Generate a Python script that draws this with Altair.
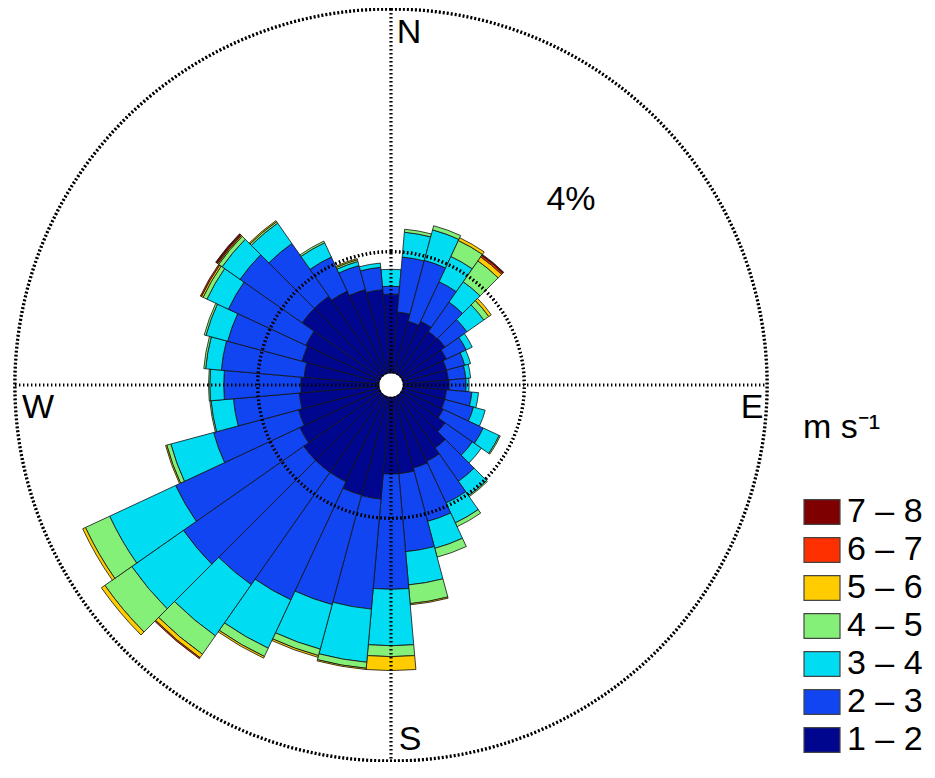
import math
import pandas as pd
import altair as alt

# ---------------- data (frequency in % per 10-degree sector) ----------------
directions = list(range(0, 360, 10))

speed_bins = ["1 – 2", "2 – 3", "3 – 4", "4 – 5", "5 – 6", "6 – 7", "7 – 8"]
bin_colors = ["#00068E", "#1245F2", "#00DDF2", "#84F078", "#FFCC00", "#FF3000", "#7E0000"]

s12 = [1.30, 1.01, 0.89, 0.96, 0.88, 0.89, 0.81, 0.75, 0.75, 0.76, 0.72, 0.72,
       0.75, 0.89, 1.07, 1.19, 1.22, 1.27, 1.27, 1.69, 1.68, 1.56, 1.56, 1.56,
       1.46, 1.38, 1.32, 1.29, 1.24, 1.32, 1.35, 1.59, 1.59, 1.51, 1.43, 1.38]
s23 = [0.13, 0.91, 1.04, 0.72, 0.59, 0.44, 0.36, 0.31, 0.29, 0.28, 0.42, 0.49,
       0.73, 0.55, 0.67, 0.76, 0.91, 1.29, 1.90, 1.82, 1.87, 2.15, 2.26, 2.42,
       2.26, 1.45, 1.09, 1.27, 1.37, 1.27, 1.41, 1.25, 1.06, 0.62, 0.41, 0.37]
s34 = [0.28, 0.41, 0.52, 0.46, 0.41, 0.34, 0.11, 0.10, 0.08, 0.05, 0.11, 0.20,
       0.29, 0.18, 0.29, 0.36, 0.46, 0.55, 0.93, 0.88, 0.76, 0.88, 1.03, 1.04,
       1.20, 0.73, 0.37, 0.23, 0.26, 0.37, 0.39, 0.36, 0.41, 0.26, 0.07, 0.07]
s45 = [0.00, 0.05, 0.07, 0.29, 0.42, 0.10, 0.00, 0.00, 0.00, 0.00, 0.00, 0.00,
       0.02, 0.00, 0.02, 0.07, 0.15, 0.31, 0.18, 0.10, 0.11, 0.15, 0.37, 0.54,
       0.44, 0.07, 0.02, 0.02, 0.03, 0.03, 0.07, 0.07, 0.03, 0.03, 0.03, 0.00]
s56 = [0.00, 0.00, 0.00, 0.05, 0.08, 0.05, 0.00, 0.00, 0.00, 0.00, 0.00, 0.00,
       0.00, 0.00, 0.00, 0.00, 0.00, 0.02, 0.23, 0.02, 0.03, 0.03, 0.07, 0.07,
       0.05, 0.02, 0.00, 0.00, 0.00, 0.00, 0.03, 0.02, 0.02, 0.00, 0.02, 0.00]
s67 = [0.00, 0.00, 0.00, 0.00, 0.03, 0.00, 0.00, 0.00, 0.00, 0.00, 0.00, 0.00,
       0.00, 0.00, 0.00, 0.00, 0.00, 0.00, 0.00, 0.00, 0.00, 0.00, 0.02, 0.00,
       0.00, 0.00, 0.00, 0.00, 0.00, 0.00, 0.02, 0.02, 0.00, 0.00, 0.00, 0.00]
s78 = [0.00, 0.00, 0.00, 0.00, 0.02, 0.00, 0.00, 0.00, 0.00, 0.00, 0.00, 0.00,
       0.00, 0.00, 0.00, 0.00, 0.00, 0.00, 0.00, 0.00, 0.00, 0.00, 0.00, 0.00,
       0.00, 0.00, 0.00, 0.00, 0.00, 0.00, 0.00, 0.02, 0.00, 0.00, 0.00, 0.00]

ring_values = [2, 4, 6]
ring_label = "4%"
compass = ["N", "E", "S", "W"]
legend_title = "m s⁻¹"

# ---------------- build stacked sector table ----------------
series = [s12, s23, s34, s45, s56, s67, s78]
rows = []
for i, d in enumerate(directions):
    base = 0.0
    for b, vals in zip(speed_bins, series):
        v = vals[i]
        if v > 0:
            rows.append({"dir": d, "bin": b, "a0": d - 5, "a1": d + 5,
                         "r0": base, "r1": base + v})
        base += v
df = pd.DataFrame(rows)

FONT = "Liberation Sans"
W, H = 766, 754
CX, CY = W / 2, H / 2
R_IN, R_OUT = 12, 376

rscale = alt.Scale(type="linear", domain=[0, 6], range=[R_IN, R_OUT], nice=False, zero=False)
tscale = alt.Scale(type="linear", domain=[0, 360], range=[0, 2 * math.pi], nice=False, zero=False)

legend = alt.Legend(
    title=legend_title, orient="none", legendX=795, legendY=403, direction="vertical",
    titleFont=FONT, titleFontSize=34, titleFontWeight="normal", titleColor="black",
    titlePadding=48, padding=0,
    labelFont=FONT, labelFontSize=34, labelColor="black", labelOffset=6,
    symbolType="M-1,-0.69H1V0.69H-1Z", symbolSize=1296,
    symbolStrokeColor="#444444", symbolStrokeWidth=1.2, symbolOpacity=1,
    rowPadding=2,
)

bars = alt.Chart(df).mark_arc(stroke="#111111", strokeWidth=0.8).encode(
    theta=alt.Theta("a0:Q", scale=tscale, stack=False),
    theta2="a1:Q",
    radius=alt.Radius("r0:Q", scale=rscale),
    radius2="r1:Q",
    color=alt.Color("bin:N",
                    scale=alt.Scale(domain=speed_bins[::-1], range=bin_colors[::-1]),
                    legend=legend),
)

dot = dict(stroke="black", strokeWidth=3.2, strokeDash=[1.4, 2.6])

rings = alt.Chart(pd.DataFrame({"r": ring_values})).mark_arc(
    filled=False, theta=0, theta2=2 * math.pi, **dot
).encode(radius=alt.Radius("r:Q", scale=rscale))

one = pd.DataFrame({"k": [0]})
vline = alt.Chart(one).mark_rule(**dot).encode(
    x=alt.value(CX), y=alt.value(CY - R_OUT), y2=alt.value(CY + R_OUT))
hline = alt.Chart(one).mark_rule(**dot).encode(
    y=alt.value(CY), x=alt.value(CX - R_OUT), x2=alt.value(CX + R_OUT))

hole = alt.Chart(one).mark_arc(
    fill="white", radius=11.5, radius2=0, theta=0, theta2=2 * math.pi
).encode(x=alt.value(CX), y=alt.value(CY))


def label(txt, x, y, halo=False):
    kw = dict(text=txt, font=FONT, fontSize=34, align="center", baseline="middle")
    if halo:
        kw.update(stroke="white", strokeWidth=14, fill="white")
    else:
        kw.update(fill="black")
    return alt.Chart(one).mark_text(**kw).encode(x=alt.value(x), y=alt.value(y))


labels = [
    label(compass[0], 401, 25),
    label(compass[1], 744, 400),
    label(compass[2], 402, 732),
    label(compass[3], 30, 400),
    label(ring_label, 563, 192, halo=True),
    label(ring_label, 563, 192),
]

chart = alt.layer(bars, rings, vline, hline, hole, *labels).properties(
    width=W, height=H,
    autosize=alt.AutoSizeParams(type="none"),
    padding={"left": 0, "top": 0, "right": 153, "bottom": 0},
).configure_view(strokeWidth=0)

chart.save("out.html", embed_options={"renderer": "svg", "actions": False})
